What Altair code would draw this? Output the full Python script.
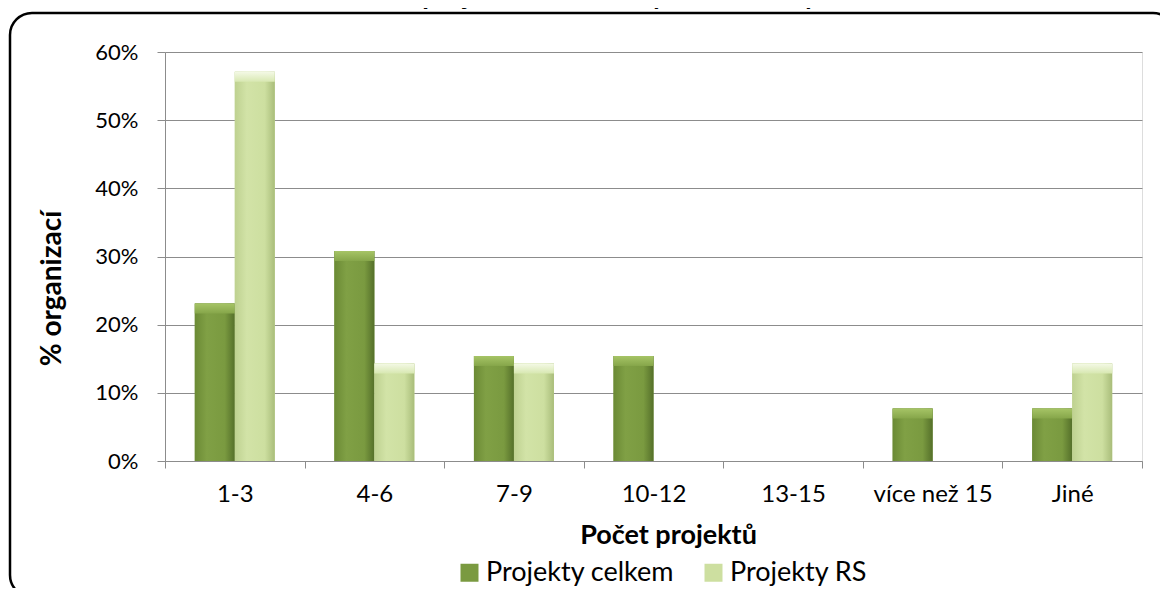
import altair as alt
import pandas as pd

TITLE = "Graf č. 16 Počet projektů realizovaných slovenskými NNO"
categories = ["1-3", "4-6", "7-9", "10-12", "13-15", "více než 15", "Jiné"]
series_names = ["Projekty celkem", "Projekty RS"]
celkem = [0.231, 0.308, 0.154, 0.154, 0.0, 0.077, 0.077]
rs = [0.571, 0.143, 0.143, 0.0, 0.0, 0.0, 0.143]
y_ticks = [0, 0.1, 0.2, 0.3, 0.4, 0.5, 0.6]

rows = []
for c, v in zip(categories, celkem):
    rows.append({"cat": c, "series": series_names[0], "val": v})
for c, v in zip(categories, rs):
    rows.append({"cat": c, "series": series_names[1], "val": v})
df = pd.DataFrame(rows)

FONT = "Lato"
W, H = 977, 409
GRID = "#8c8c8c"

x_enc = alt.X("cat:N", sort=categories, title="Počet projektů",
              scale=alt.Scale(paddingInner=0, paddingOuter=0),
              axis=alt.Axis(labelAngle=0, tickBand="extent", tickSize=7,
                            labelPadding=14, labelFontSize=24, labelFont=FONT,
                            labelColor="black", domainColor=GRID, tickColor=GRID,
                            titleFont=FONT, titleFontSize=27, titleFontWeight="bold",
                            titleColor="black", titleX=503, titleY=74,
                            titleBaseline="middle", titleAnchor="start",
                            titleAlign="center"))
xo_enc = alt.XOffset("series:N", sort=series_names,
                     scale=alt.Scale(domain=series_names, paddingOuter=0.745, paddingInner=0))
y_enc = alt.Y("val:Q", title="% organizací",
              scale=alt.Scale(domain=[0, 0.6], nice=False),
              axis=alt.Axis(values=y_ticks, format=".0%", tickSize=8,
                            labelPadding=19, labelFontSize=22, labelFont=FONT,
                            labelColor="black", domainColor=GRID, tickColor=GRID,
                            grid=True, gridColor=GRID, gridWidth=1,
                            titleFont=FONT, titleFontSize=28, titleFontWeight="bold",
                            titleColor="black", titleAngle=-90, titleX=-113, titleY=236,
                            titleBaseline="middle", titleAlign="center", titleAnchor="start"))


def hgrad(c0, c1, c2, c3):
    return alt.LinearGradient(gradient="linear", x1=0, x2=1, y1=0, y2=0, stops=[
        alt.GradientStop(color=c0, offset=0),
        alt.GradientStop(color=c1, offset=0.3),
        alt.GradientStop(color=c2, offset=0.75),
        alt.GradientStop(color=c3, offset=1)])


def vgrad(c0, c1):
    return alt.LinearGradient(gradient="linear", x1=0, x2=0, y1=0, y2=1, stops=[
        alt.GradientStop(color=c0, offset=0),
        alt.GradientStop(color=c1, offset=1)])


dark_grad = hgrad("#6b8a35", "#80a045", "#7a9a40", "#55702a")
light_grad = hgrad("#bed190", "#d2e3a7", "#cddfa0", "#a9bd7a")
dark_top = vgrad("#a6c466", "#86a64a")
light_top = vgrad("#f4f9e6", "#d8e8b2")

base_bars = alt.Chart(df).mark_bar().encode(
    x=x_enc, xOffset=xo_enc, y=y_enc,
    color=alt.Color("series:N", sort=series_names,
                    scale=alt.Scale(domain=series_names, range=["#7a9a40", "#cddfa0"]),
                    legend=alt.Legend(title=None, orient="none", legendX=291, legendY=507,
                                      direction="horizontal", columns=2,
                                      symbolType="square", symbolSize=324,
                                      symbolStrokeWidth=0, labelFont=FONT,
                                      labelFontSize=27, labelColor="black",
                                      labelOffset=3, columnPadding=25,
                                      labelLimit=300)))


def series_layer(name, fill, top_fill):
    body = alt.Chart(df).transform_filter(
        alt.datum.series == name).mark_bar(fill=fill).encode(
        x=alt.X("cat:N", sort=categories),
        xOffset=alt.XOffset("series:N", sort=series_names),
        y=alt.Y("val:Q"))
    top = alt.Chart(df).transform_filter(
        (alt.datum.series == name) & (alt.datum.val > 0)).transform_calculate(
        low="datum.val - 0.0145").mark_bar(fill=top_fill).encode(
        x=alt.X("cat:N", sort=categories),
        xOffset=alt.XOffset("series:N", sort=series_names),
        y=alt.Y("val:Q"), y2="low:Q")
    return [body, top]


one = pd.DataFrame({"t": [TITLE]})
frame = alt.Chart(one).mark_rect(fill="transparent", stroke="black", strokeWidth=2.5,
                                 cornerRadius=22).encode(
    x=alt.value(-155), x2=alt.value(1010), y=alt.value(-39), y2=alt.value(545))
title = alt.Chart(one).mark_text(font=FONT, fontSize=27, fontWeight="bold", color="black",
                                 baseline="alphabetic", align="center").encode(
    text="t:N", x=alt.value(406), y=alt.value(-47))

layers = [frame, base_bars]
layers += series_layer(series_names[0], dark_grad, dark_top)
layers += series_layer(series_names[1], light_grad, light_top)
layers.append(title)

chart = alt.layer(*layers).properties(
    width=W, height=H,
    autosize=alt.AutoSizeParams(type="none"),
    padding={"left": 157, "top": 44, "right": 18, "bottom": 127},
).configure_view(stroke=None).configure(background="white")

chart.save("out.html", embed_options={"renderer": "svg", "actions": False})
